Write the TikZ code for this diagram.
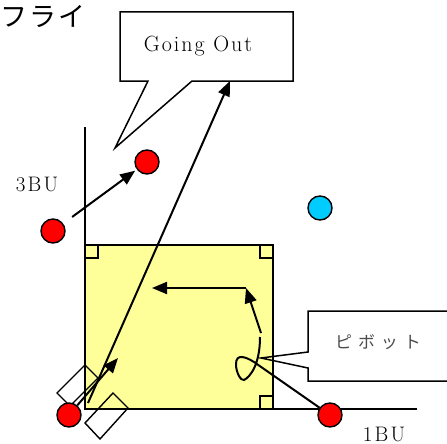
\documentclass[tikz,border=0pt]{standalone}
\usepackage{fontspec}
\setmainfont{Latin Modern Roman}
\newfontfamily\jpfont{Noto Sans CJK JP}
\usetikzlibrary{positioning}
\usetikzlibrary{arrows.meta}
\definecolor{infield}{RGB}{255,255,153}
\definecolor{fieldblue}{RGB}{0,204,255}
\definecolor{runnerred}{RGB}{255,0,0}

\begin{document}
\begin{tikzpicture}[x=1pt, y=-1pt,
    runner/.style={circle, draw, line width=1.4pt, fill=runnerred, minimum size=24pt, inner sep=0pt},
    defender/.style={runner, fill=fieldblue},
    arr/.style={-{Triangle[length=15pt,width=12pt]}, line width=2pt},
    callout/.style={draw, line width=1.5pt},
    cornerbox/.style={draw, line width=1.2pt},
    basetext/.style={inner sep=0pt, font=\fontsize{21}{21}\selectfont\addfontfeatures{LetterSpace=10}}
]
    \useasboundingbox (0,0) rectangle (447,444);
    \clip (0,0) rectangle (447,444);

    % field
    \draw[line width=1.2pt] (85,127) -- (85,245);
    \draw[line width=1.8pt] (273,409) -- (417,409);
    \draw[line width=1.8pt, fill=infield] (85,245) rectangle (273,409);
    \draw[cornerbox] (85,245) rectangle (98,258);
    \draw[cornerbox] (260,245) rectangle (273,258);
    \draw[cornerbox] (260,396) rectangle (273,409);

    % batter boxes
    \draw[line width=1.4pt] (85,365) -- (98,378) -- (70,406) -- (57,393) -- cycle;
    \draw[line width=1.4pt] (113,393) -- (128,408) -- (100,439) -- (85,423) -- cycle;

    % callouts
    \draw[callout, fill=white] (120,12) -- (293,12) -- (293,81) -- (192,81) -- (115,148) -- (148,81) -- (120,81) -- cycle;
    \node[font=\fontsize{22}{22}\selectfont\addfontfeatures{LetterSpace=9}] (goingout) at (198,46) {Going Out};
    \draw[callout] (460,311) -- (308,311) -- (308,352) -- (261,358) -- (308,368) -- (308,381) -- (460,381);
    \node[text=black!70, font=\jpfont\fontsize{17}{17}\selectfont\addfontfeatures{LetterSpace=35}] (pivot) at (378,342) {ピボット};

    \node[anchor=west, font=\jpfont\fontsize{27}{27}\selectfont\addfontfeatures{LetterSpace=8}] (title) at (-3,16) {フライ};
    \node[basetext] (thirdlbl) at (37,184) {3BU};
    \node[basetext] (firstlbl) at (384,434) {1BU};

    % runners
    \node[runner] (third) at (53,231) {};
    \node[runner] (thirdgo) at (147,162) {};
    \node[runner] (batter) at (69,415) {};
    \node[runner] (first) at (330,415) {};
    \node[defender] (fielder) at (320,208) {};

    % moves
    \coordinate (hit) at (88,403);
    \coordinate (fly) at (230,81);
    \coordinate (batgo) at (118,358);
    \coordinate (spin) at (261,333);
    \coordinate (turnpt) at (246,288);
    \coordinate (back) at (152,288);
    \draw[arr] (hit) -- (fly);
    \draw[arr] (batter) -- (batgo);
    \draw[arr, shorten <=11pt, shorten >=2pt] (third) -- (thirdgo);
    \draw[line width=2pt] (first) -- (254,362) .. controls (246,357) and (236,353) .. (236,364)
        .. controls (236,373) and (241,381) .. (244,380) .. controls (250,377) and (260,365) .. (260,337);
    \draw[arr] (spin) -- (turnpt);
    \draw[arr] (turnpt) -- (back);
\end{tikzpicture}
\end{document}
